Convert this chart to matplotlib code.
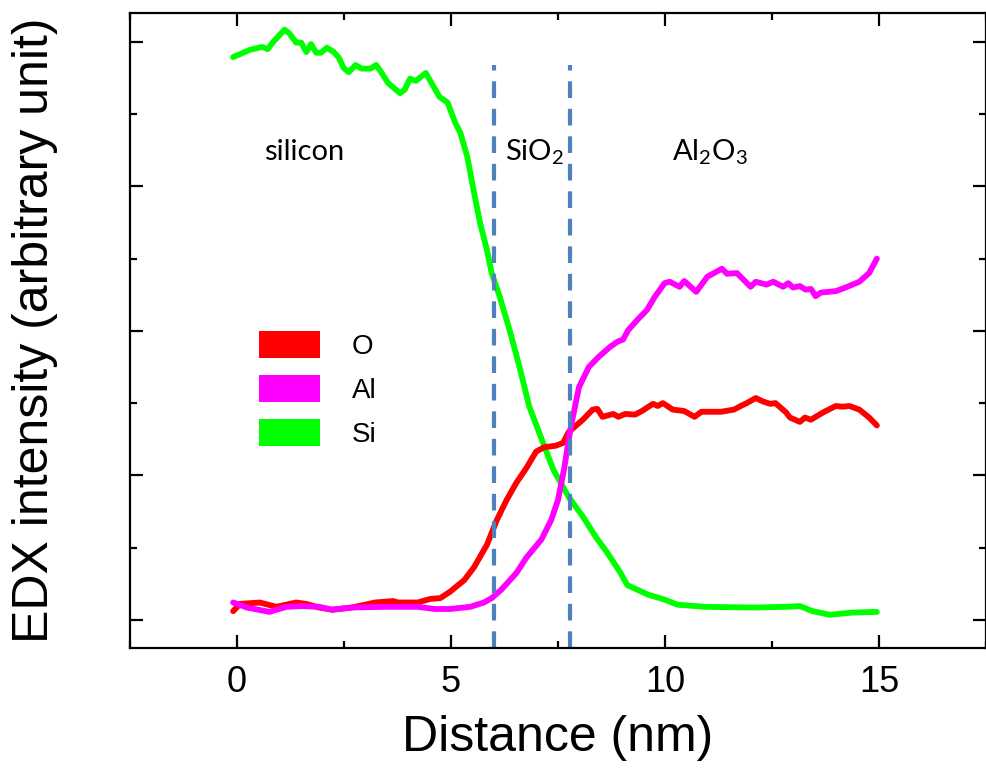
import matplotlib
matplotlib.use("Agg")
import matplotlib.pyplot as plt
from matplotlib.patches import Patch

plt.rcParams['font.family'] = ['Liberation Sans', 'DejaVu Sans']

# EDX line profile
o_x = [-0.09, 0.07, 0.53, 0.92, 1.38, 1.62, 1.92, 2.22, 2.68, 3.23, 3.65, 3.76, 4.22, 4.52,
       4.75, 4.98, 5.31, 5.54, 5.84, 6.07, 6.30, 6.53, 6.76, 6.99, 7.18, 7.45, 7.62, 7.75,
       8.08, 8.31, 8.42, 8.54, 8.79, 8.91, 9.07, 9.30, 9.46, 9.72, 9.83, 9.95, 10.18, 10.45,
       10.69, 10.85, 11.31, 11.61, 11.77, 11.91, 12.12, 12.30, 12.46, 12.58, 12.83, 12.92,
       13.15, 13.27, 13.41, 13.69, 13.99, 14.15, 14.31, 14.54, 14.77, 14.95]
o_y = [0.12, 0.22, 0.24, 0.18, 0.24, 0.22, 0.17, 0.14, 0.17, 0.24, 0.26, 0.24, 0.24, 0.29,
       0.30, 0.39, 0.55, 0.73, 1.04, 1.38, 1.66, 1.90, 2.10, 2.33, 2.39, 2.41, 2.45, 2.60,
       2.77, 2.91, 2.92, 2.81, 2.85, 2.81, 2.85, 2.84, 2.89, 2.99, 2.96, 3.00, 2.91, 2.89,
       2.81, 2.88, 2.88, 2.91, 2.96, 3.00, 3.07, 3.02, 2.99, 3.00, 2.87, 2.80,
       2.74, 2.80, 2.77, 2.87, 2.96, 2.95, 2.96, 2.91, 2.80, 2.69]

al_x = [-0.09, 0.23, 0.76, 1.15, 1.52, 1.92, 2.22, 2.68, 3.46, 4.22, 4.62, 4.98, 5.45, 5.77,
        5.95, 6.18, 6.53, 6.76, 7.11, 7.34, 7.50, 7.64, 7.75, 7.80, 7.99, 8.22, 8.45, 8.72,
        8.89, 9.02, 9.14, 9.35, 9.58, 9.76, 9.99, 10.11, 10.34, 10.45, 10.73, 10.99, 11.33,
        11.45, 11.68, 12.00, 12.12, 12.37, 12.53, 12.76, 12.88, 12.99, 13.15, 13.29, 13.41,
        13.52, 13.64, 13.99, 14.22, 14.54, 14.77, 14.95]
al_y = [0.24, 0.17, 0.11, 0.18, 0.19, 0.18, 0.14, 0.17, 0.18, 0.18, 0.15, 0.15, 0.18, 0.24,
        0.30, 0.42, 0.65, 0.86, 1.11, 1.38, 1.66, 2.08, 2.49, 2.67, 3.22, 3.50, 3.64, 3.78,
        3.85, 3.88, 4.01, 4.15, 4.29, 4.47, 4.66, 4.68, 4.61, 4.69, 4.54, 4.75, 4.86,
        4.79, 4.80, 4.61, 4.68, 4.64, 4.68, 4.61, 4.66, 4.60, 4.62, 4.57, 4.58,
        4.48, 4.53, 4.55, 4.60, 4.68, 4.80, 5.00]

si_x = [-0.09, 0.30, 0.58, 0.72, 0.83, 1.11, 1.22, 1.38, 1.50, 1.62, 1.73, 1.85, 1.96, 2.10,
        2.26, 2.38, 2.49, 2.61, 2.77, 2.91, 3.12, 3.25, 3.37, 3.53, 3.81, 3.92, 4.04, 4.18,
        4.41, 4.73, 4.92, 5.10, 5.22, 5.38, 5.54, 5.68, 5.84, 5.95, 6.14, 6.37, 6.60, 6.83,
        7.06, 7.39, 7.75, 8.08, 8.38, 8.65, 8.95, 9.12, 9.60, 9.99, 10.29, 10.92, 12.07,
        12.83, 13.15, 13.45, 13.85, 14.38, 14.95]
si_y = [7.79, 7.89, 7.93, 7.90, 7.99, 8.17, 8.12, 7.99, 7.99, 7.86, 7.97, 7.85, 7.85, 7.92,
        7.86, 7.78, 7.64, 7.58, 7.68, 7.63, 7.63, 7.68, 7.58, 7.43, 7.29, 7.34, 7.49, 7.46,
        7.57, 7.24, 7.16, 6.88, 6.74, 6.41, 5.91, 5.49, 5.12, 4.80, 4.47, 4.01, 3.50, 2.95,
        2.59, 2.08, 1.70, 1.43, 1.15, 0.93, 0.66, 0.48, 0.35, 0.28, 0.21, 0.18, 0.17,
        0.18, 0.19, 0.12, 0.07, 0.10, 0.11]

boundaries = [6.0, 7.78]
region_names = ['silicon', r'SiO$_\mathregular{2}$', r'Al$_\mathregular{2}$O$_\mathregular{3}$']
region_x = [1.57, 6.95, 11.05]

fig = plt.figure(figsize=(9.87, 7.71), dpi=100)
ax = fig.add_axes([130 / 987, 1 - 648 / 771, 856 / 987, 635 / 771])

line_kw = dict(lw=4.2, solid_capstyle='round', solid_joinstyle='round')
ax.plot(si_x, si_y, color='#00ff00', **line_kw)
ax.plot(o_x, o_y, color='#ff0000', **line_kw)
ax.plot(al_x, al_y, color='#ff00ff', **line_kw)

for b in boundaries:
    ax.axvline(b, ymin=0, ymax=0.918, color='#4f81bd', lw=3, linestyle=(0, (4, 2.6)))

for name, xc in zip(region_names, region_x):
    ax.text(xc, 6.48, name, ha='center', va='center', fontsize=21,
            family=['Lato', 'DejaVu Sans'])

ax.set_xlim(-2.47, 17.3)
ax.set_ylim(-0.39, 8.40)
ax.set_xticks([0, 5, 10, 15])
ax.set_xticks([-2.5, 2.5, 7.5, 12.5, 17.5], minor=True)
ax.set_yticks([0, 2, 4, 6, 8])
ax.set_yticks([1, 3, 5, 7], minor=True)
ax.set_yticklabels([])
ax.tick_params(which='both', direction='in', top=True, right=True, width=1.6)
ax.tick_params(which='major', length=9.5)
ax.tick_params(which='minor', length=5)
ax.tick_params(axis='x', labelsize=26, pad=12)
for s in ax.spines.values():
    s.set_linewidth(1.6)

ax.set_xlabel('Distance (nm)', fontsize=36, labelpad=11)
ax.set_ylabel('EDX intensity (arbitrary unit)', fontsize=36, labelpad=48)

handles = [Patch(facecolor='#ff0000', edgecolor='none', label='O'),
           Patch(facecolor='#ff00ff', edgecolor='none', label='Al'),
           Patch(facecolor='#00ff00', edgecolor='none', label='Si')]
ax.legend(handles=handles, loc='upper left', bbox_to_anchor=(259 / 987, 1 - 331 / 771),
          bbox_transform=fig.transFigure, frameon=False, fontsize=20,
          handlelength=2.2, handleheight=1.1, handletextpad=1.15, labelspacing=0.55,
          borderpad=0, borderaxespad=0)

fig.savefig('out.png', dpi=100)
